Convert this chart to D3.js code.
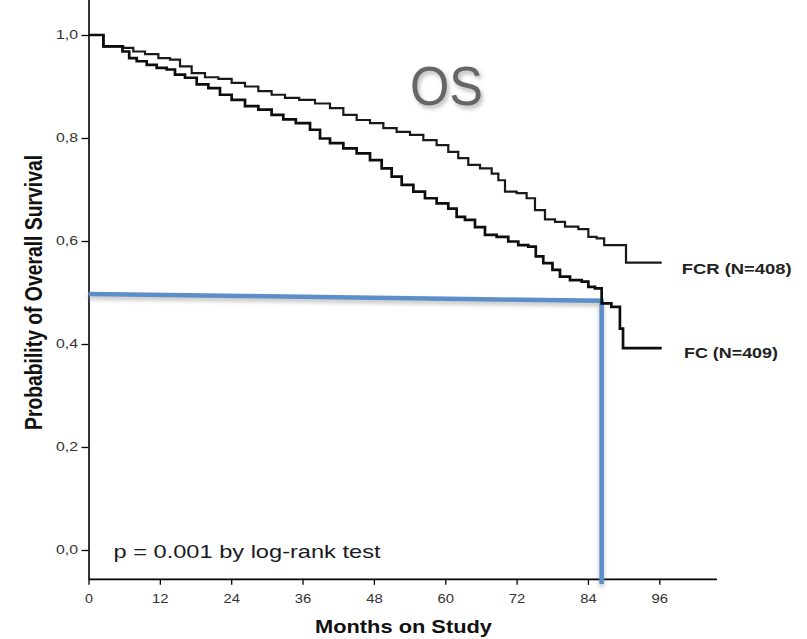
<!DOCTYPE html>
<html>
<head>
<meta charset="utf-8">
<script src="https://cdn.jsdelivr.net/npm/d3@7"></script>
<style>
  html, body { margin: 0; padding: 0; background: #fff; }
  svg { display: block; font-family: "Liberation Sans", Arial, Helvetica, sans-serif; }
</style>
</head>
<body>
<svg id="chart" width="807" height="639"></svg>
<script>
// ---- Data (months on study, survival probability) ----
const monthsFCR = [0, 5.01, 6.69, 8.38, 10.63, 12.87, 14.55, 16.23, 18.47, 20.72, 22.96, 25.19, 27.45, 29.68, 31.92, 34.17, 36.70, 39.49, 41.74, 43.98, 46.22, 48.47, 50.71, 52.94, 55.20, 57.43, 59.67, 61.35, 63.03, 64.72, 66.97, 68.65, 69.21, 70.89, 73.12, 74.25, 75.93, 77.62, 79.30, 80.98, 83.79, 84.34, 86.58, 86.87, 90.35, 90.45, 96.40];
const survFCR   = [1.000, 0.978, 0.975, 0.968, 0.963, 0.955, 0.952, 0.939, 0.926, 0.918, 0.915, 0.907, 0.900, 0.891, 0.884, 0.878, 0.874, 0.867, 0.858, 0.845, 0.835, 0.829, 0.819, 0.812, 0.806, 0.796, 0.786, 0.773, 0.761, 0.748, 0.741, 0.731, 0.718, 0.696, 0.693, 0.683, 0.660, 0.642, 0.637, 0.628, 0.623, 0.608, 0.605, 0.592, 0.592, 0.558, 0.558];

const monthsFC = [0, 5.01, 6.42, 7.27, 8.95, 10.63, 12.31, 13.99, 15.10, 17.36, 19.04, 21.27, 22.96, 25.19, 27.45, 29.68, 31.92, 33.60, 36.13, 38.38, 39.49, 41.74, 43.98, 46.22, 48.47, 50.15, 51.83, 53.52, 55.75, 57.43, 59.67, 61.35, 62.48, 64.16, 65.84, 67.52, 69.76, 71.44, 73.12, 74.81, 75.65, 77.33, 78.74, 79.85, 82.11, 83.79, 84.34, 86.03, 86.58, 89.30, 89.45, 89.85, 89.95, 96.40];
const survFC   = [1.000, 0.978, 0.968, 0.955, 0.949, 0.942, 0.936, 0.933, 0.923, 0.917, 0.904, 0.897, 0.884, 0.874, 0.862, 0.855, 0.845, 0.836, 0.829, 0.816, 0.799, 0.790, 0.780, 0.770, 0.757, 0.741, 0.725, 0.709, 0.696, 0.683, 0.673, 0.663, 0.647, 0.641, 0.627, 0.612, 0.608, 0.599, 0.592, 0.589, 0.570, 0.557, 0.544, 0.531, 0.524, 0.521, 0.511, 0.508, 0.479, 0.472, 0.430, 0.430, 0.392, 0.392];

const seriesNames = ["FCR (N=408)", "FC (N=409)"];

// median annotation (blue guide)
const medianMonths = [0, 86.3, 86.3];
const medianSurv   = [0.497, 0.484, -0.066];

const xTicks = [0, 12, 24, 36, 48, 60, 72, 84, 96];
const yTicks = [0, 0.2, 0.4, 0.6, 0.8, 1.0];
const yTickLabels = ["0,0", "0,2", "0,4", "0,6", "0,8", "1,0"];

const titleText = "OS";
const xLabel = "Months on Study";
const yLabel = "Probability of Overall Survival";
const pText = "p = 0.001 by log-rank test";

// ---- Scales ----
const x = d3.scaleLinear().domain([0, 96]).range([88.5, 659.3]);
const y = d3.scaleLinear().domain([0, 1]).range([550, 35]);

const svg = d3.select("#chart");
const defs = svg.append("defs");
const f = defs.append("filter").attr("id", "shadow").attr("x", "-10%").attr("y", "-50%").attr("width", "120%").attr("height", "300%");
f.append("feDropShadow").attr("dx", 0).attr("dy", 3).attr("stdDeviation", 2).attr("flood-color", "#888").attr("flood-opacity", 0.55);
const f2 = defs.append("filter").attr("id", "tshadow").attr("x", "-20%").attr("y", "-20%").attr("width", "150%").attr("height", "150%");
f2.append("feDropShadow").attr("dx", 2).attr("dy", 3).attr("stdDeviation", 2).attr("flood-color", "#999").attr("flood-opacity", 0.7);

// ---- Axes ----
const yLo = -0.056, yHi = 1.082;
const yAxisScale = y.copy().domain([yLo, yHi]).range([y(yLo), y(yHi)]);
const yAxis = d3.axisLeft(yAxisScale).tickValues(yTicks).tickSize(7).tickSizeOuter(0).tickPadding(3.5)
  .tickFormat((d, i) => yTickLabels[i]);
const gy = svg.append("g").attr("transform", `translate(${x(0)},0)`).call(yAxis);
gy.select(".domain").attr("stroke", "#000").attr("stroke-width", 1.6);
gy.selectAll(".tick line").attr("stroke", "#000").attr("stroke-width", 1.3);
gy.selectAll(".tick text").attr("font-size", 12).attr("fill", "#333")
  .attr("font-family", "Liberation Sans, Arial, sans-serif")
  .attr("textLength", 22).attr("lengthAdjust", "spacingAndGlyphs");

const xHi = 105.6;
const xAxisScale = x.copy().domain([0, xHi]).range([x(0), x(xHi)]);
const xAxis = d3.axisBottom(xAxisScale).tickValues(xTicks).tickSize(6).tickSizeOuter(0);
const gx = svg.append("g").attr("transform", `translate(0,${y(yLo)})`).call(xAxis);
gx.select(".domain").attr("stroke", "#000").attr("stroke-width", 1.6);
gx.selectAll(".tick line").attr("stroke", "#000").attr("stroke-width", 1.3);
gx.selectAll(".tick text").attr("font-size", 12).attr("fill", "#333")
  .attr("font-family", "Liberation Sans, Arial, sans-serif")
  .attr("dy", null).attr("y", 24)
  .attr("textLength", d => d < 10 ? 8 : 16.5).attr("lengthAdjust", "spacingAndGlyphs");

// ---- Median guide (blue) ----
const medianData = medianMonths.map((m, i) => [m, medianSurv[i]]);
svg.append("path")
  .datum(medianData)
  .attr("d", d3.line().x(d => x(d[0])).y(d => y(d[1])))
  .attr("fill", "none")
  .attr("stroke", "#5b8fca")
  .attr("stroke-width", 4.5)
  .attr("stroke-linejoin", "miter")
  .attr("filter", "url(#shadow)");

// ---- KM curves ----
const series = [
  { name: seriesNames[0], m: monthsFCR, s: survFCR, w: 2.2, color: "#1a1a1a" },
  { name: seriesNames[1], m: monthsFC, s: survFC, w: 2.7, color: "#0d0d0d" }
];
const line = d3.line().curve(d3.curveStep).x(d => x(d[0])).y(d => y(d[1]));
series.forEach(sr => {
  const pts = sr.m.map((m, i) => [m, sr.s[i]]);
  svg.append("path")
    .datum(pts)
    .attr("d", line)
    .attr("fill", "none")
    .attr("stroke", sr.color)
    .attr("stroke-width", sr.w)
    .attr("stroke-linejoin", "miter");
});

// ---- Series labels ----
svg.append("text").attr("x", 681.7).attr("y", 274)
  .attr("font-size", 14.5).attr("font-weight", "bold").attr("fill", "#222")
  .attr("textLength", 110).attr("lengthAdjust", "spacingAndGlyphs")
  .text(seriesNames[0]);
svg.append("text").attr("x", 684).attr("y", 358)
  .attr("font-size", 14.5).attr("font-weight", "bold").attr("fill", "#222")
  .attr("textLength", 94).attr("lengthAdjust", "spacingAndGlyphs")
  .text(seriesNames[1]);

// ---- Title ----
svg.append("text").attr("x", 410).attr("y", 104.5)
  .attr("font-size", 55).attr("fill", "#666")
  .attr("textLength", 73).attr("lengthAdjust", "spacingAndGlyphs")
  .attr("filter", "url(#tshadow)")
  .text(titleText);

// ---- p-value ----
svg.append("text").attr("x", 113.5).attr("y", 557.5)
  .attr("font-size", 19).attr("fill", "#1a1a22")
  .attr("textLength", 267).attr("lengthAdjust", "spacingAndGlyphs")
  .text(pText);

// ---- Axis titles ----
svg.append("text").attr("x", 315).attr("y", 632.5)
  .attr("font-size", 18.5).attr("font-weight", "bold").attr("fill", "#111")
  .attr("textLength", 177).attr("lengthAdjust", "spacingAndGlyphs")
  .text(xLabel);

svg.append("text")
  .attr("transform", "translate(41.5,292.5) scale(1.21,1) rotate(-90)")
  .attr("text-anchor", "middle")
  .attr("font-size", 19.3).attr("font-weight", "bold").attr("fill", "#111")
  .attr("textLength", 275).attr("lengthAdjust", "spacingAndGlyphs")
  .text(yLabel);
</script>
</body>
</html>
